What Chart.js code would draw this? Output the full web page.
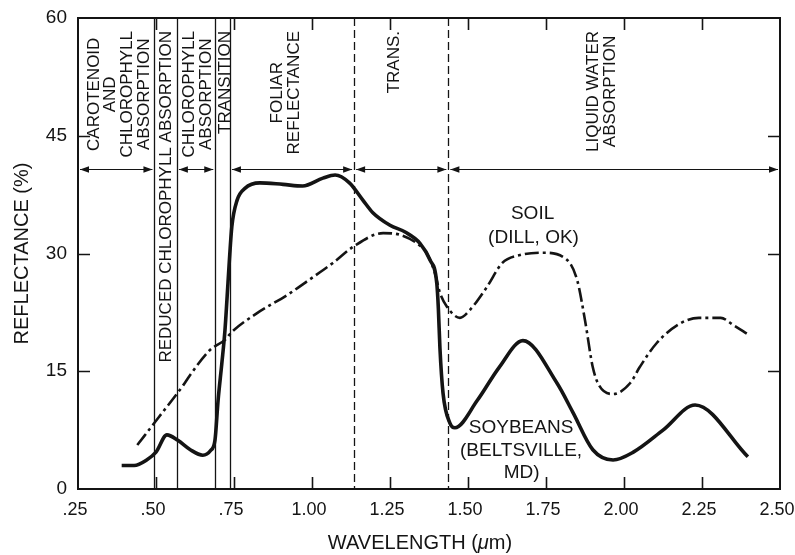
<!DOCTYPE html>
<html>
<head>
<meta charset="utf-8">
<script src="https://cdn.jsdelivr.net/npm/chart.js@4.4.0/dist/chart.umd.min.js"></script>
<style>
  html, body { margin: 0; padding: 0; background: #fff; }
  #wrap { width: 795px; height: 555px; }
</style>
</head>
<body>
<div id="wrap"><canvas id="spectra"></canvas></div>
<script>
// values (wavelength in um, reflectance in %)
var soybeanWl = [0.39, 0.43, 0.47, 0.50, 0.535, 0.57, 0.61, 0.65, 0.675, 0.689, 0.699, 0.711, 0.721, 0.728, 0.735, 0.743, 0.76, 0.785, 0.833, 0.907, 0.97, 1.035, 1.074, 1.12, 1.163, 1.195, 1.25, 1.30, 1.346, 1.378, 1.40, 1.405, 1.41, 1.42, 1.442, 1.458, 1.53, 1.60, 1.676, 1.785, 1.837, 1.90, 1.965, 2.03, 2.125, 2.228, 2.397];
var soybeanRefl = [3.0, 3.0, 3.7, 4.7, 6.9, 6.2, 5.0, 4.3, 4.9, 6.2, 11.3, 16.0, 20.2, 24.5, 29.0, 33.4, 36.8, 38.3, 39.0, 38.8, 38.6, 39.6, 40.0, 39.0, 36.8, 35.2, 33.6, 32.7, 31.3, 29.2, 26.2, 23.0, 18.0, 12.2, 8.4, 7.8, 11.3, 15.5, 18.9, 13.5, 9.7, 5.0, 3.7, 4.7, 7.5, 10.7, 4.1];

var soilWl = [0.44, 0.51, 0.587, 0.609, 0.673, 0.721, 0.743, 0.824, 0.92, 1.00, 1.067, 1.13, 1.228, 1.28, 1.336, 1.368, 1.394, 1.41, 1.433, 1.474, 1.506, 1.56, 1.61, 1.667, 1.74, 1.817, 1.85, 1.875, 1.90, 1.92, 1.965, 2.02, 2.05, 2.105, 2.18, 2.24, 2.31, 2.35, 2.397];
var soilRefl = [5.6, 9.2, 13.2, 14.5, 17.7, 19.0, 20.0, 22.4, 24.7, 26.9, 28.8, 30.8, 32.6, 32.4, 31.3, 30.0, 27.5, 25.0, 23.2, 21.8, 22.8, 25.7, 28.8, 29.8, 30.1, 29.2, 26.6, 21.5, 15.5, 13.2, 12.1, 13.5, 15.5, 18.6, 21.1, 21.8, 21.8, 20.9, 19.7];

var xTicks = [0.25, 0.50, 0.75, 1.00, 1.25, 1.50, 1.75, 2.00, 2.25, 2.50];
var yTicks = [0, 15, 30, 45, 60];

// spectral region boundaries and names
var boundaries = [0.495, 0.567, 0.69, 0.737, 1.135, 1.437];
var boundaryDashed = [false, false, false, false, true, true];
var arrowLevel = 40.8;
var arrowSpans = [[0.25, 0.495], [0.567, 0.69], [0.737, 1.135], [1.135, 1.437], [1.437, 2.5]];
var regionNames = [
  ['CAROTENOID', 'AND', 'CHLOROPHYLL', 'ABSORPTION'],
  ['REDUCED CHLOROPHYLL ABSORPTION'],
  ['CHLOROPHYLL', 'ABSORPTION'],
  ['TRANSITION'],
  ['FOLIAR', 'REFLECTANCE'],
  ['TRANS.'],
  ['LIQUID WATER', 'ABSORPTION']
];
var regionCenters = [0.378, 0.530, 0.630, 0.718, 0.913, 1.26, 1.926];

var ink = '#141414';
var FONT = "'Liberation Sans', Arial, sans-serif";

function pts(xs, ys) {
  return xs.map(function (x, i) { return { x: x, y: ys[i] }; });
}

var paper = {
  id: 'paper',
  beforeDatasetsDraw: function (chart) {
    var ctx = chart.ctx, xs = chart.scales.x, ys = chart.scales.y, a = chart.chartArea;
    ctx.save();
    ctx.strokeStyle = ink;
    ctx.fillStyle = ink;

    // region boundaries
    ctx.lineWidth = 1.3;
    boundaries.forEach(function (b, i) {
      var px = Math.round(xs.getPixelForValue(b)) + 0.5;
      ctx.setLineDash(boundaryDashed[i] ? [8, 4] : []);
      ctx.beginPath();
      ctx.moveTo(px, a.top);
      ctx.lineTo(px, a.bottom);
      ctx.stroke();
    });
    ctx.setLineDash([]);

    // double headed arrows
    var ay = Math.round(ys.getPixelForValue(arrowLevel)) + 0.5;
    function head(x, dir) {
      ctx.beginPath();
      ctx.moveTo(x, ay);
      ctx.lineTo(x + dir * 9, ay - 3.2);
      ctx.lineTo(x + dir * 9, ay + 3.2);
      ctx.closePath();
      ctx.fill();
    }
    ctx.lineWidth = 1.2;
    arrowSpans.forEach(function (s) {
      var x1 = xs.getPixelForValue(s[0]) + 2, x2 = xs.getPixelForValue(s[1]) - 2;
      ctx.beginPath();
      ctx.moveTo(x1, ay);
      ctx.lineTo(x2, ay);
      ctx.stroke();
      head(x1, 1);
      head(x2, -1);
    });

    // rotated region names, top of each block at the same height
    ctx.font = '17px ' + FONT;
    ctx.textAlign = 'center';
    ctx.textBaseline = 'middle';
    var lh = 16.6;
    regionNames.forEach(function (lines, k) {
      var w = 0;
      lines.forEach(function (t) { w = Math.max(w, ctx.measureText(t).width); });
      var cx = xs.getPixelForValue(regionCenters[k]);
      var cy = a.top + 13 + w / 2;
      ctx.save();
      ctx.translate(cx, cy);
      ctx.rotate(-Math.PI / 2);
      lines.forEach(function (t, i) {
        ctx.fillText(t, 0, (i - (lines.length - 1) / 2) * lh + 1);
      });
      ctx.restore();
    });

    // curve labels
    ctx.font = '19px ' + FONT;
    function note(t, x, y) { ctx.fillText(t, xs.getPixelForValue(x), ys.getPixelForValue(y)); }
    note('SOIL', 1.707, 35.1);
    note('(DILL, OK)', 1.71, 32.0);
    note('SOYBEANS', 1.67, 7.8);
    note('(BELTSVILLE,', 1.67, 4.85);
    note('MD)', 1.672, 2.05);
    ctx.restore();
  },
  afterDatasetsDraw: function (chart) {
    var ctx = chart.ctx, xs = chart.scales.x, ys = chart.scales.y, a = chart.chartArea;
    ctx.save();
    ctx.strokeStyle = ink;
    ctx.lineWidth = 2;
    ctx.strokeRect(a.left, a.top, a.right - a.left, a.bottom - a.top);

    // inward ticks on all four sides
    ctx.lineWidth = 1.6;
    var tl = 12;
    xTicks.slice(1, -1).forEach(function (v) {
      var px = Math.round(xs.getPixelForValue(v)) + 0.5;
      ctx.beginPath();
      ctx.moveTo(px, a.bottom); ctx.lineTo(px, a.bottom - tl);
      ctx.moveTo(px, a.top); ctx.lineTo(px, a.top + tl);
      ctx.stroke();
    });
    yTicks.slice(1, -1).forEach(function (v) {
      var py = Math.round(ys.getPixelForValue(v)) + 0.5;
      ctx.beginPath();
      ctx.moveTo(a.left, py); ctx.lineTo(a.left + tl, py);
      ctx.moveTo(a.right, py); ctx.lineTo(a.right - tl, py);
      ctx.stroke();
    });

    // x axis title with italic mu
    ctx.fillStyle = ink;
    ctx.textBaseline = 'middle';
    ctx.textAlign = 'left';
    var parts = [['WAVELENGTH (', '20px ' + FONT], ['\u03bc', 'italic 20px ' + FONT], ['m)', '20px ' + FONT]];
    var total = 0;
    parts.forEach(function (p) { ctx.font = p[1]; total += ctx.measureText(p[0]).width; });
    var tx = (a.left + a.right) / 2 - 9 - total / 2;
    parts.forEach(function (p) {
      ctx.font = p[1];
      ctx.fillText(p[0], tx, 543);
      tx += ctx.measureText(p[0]).width;
    });
    ctx.restore();
  }
};

var chart = new Chart(document.getElementById('spectra'), {
  type: 'line',
  data: {
    datasets: [{
      label: 'Soybeans (Beltsville, MD)',
      data: pts(soybeanWl, soybeanRefl),
      borderColor: ink,
      borderWidth: 3.6,
      pointRadius: 0,
      fill: false,
      cubicInterpolationMode: 'monotone'
    }, {
      label: 'Soil (Dill, OK)',
      data: pts(soilWl, soilRefl),
      borderColor: ink,
      borderWidth: 2.6,
      borderDash: [14, 4, 3, 4],
      pointRadius: 0,
      fill: false,
      cubicInterpolationMode: 'monotone'
    }]
  },
  options: {
    responsive: true,
    maintainAspectRatio: false,
    animation: false,
    layout: { padding: { top: 18, right: 15, left: 0, bottom: 0 } },
    plugins: { legend: { display: false }, tooltip: { enabled: false } },
    scales: {
      x: {
        type: 'linear',
        min: 0.25,
        max: 2.5,
        afterFit: function (s) { s.height = 66; s.paddingLeft = 0; s.paddingRight = 0; },
        afterBuildTicks: function (s) { s.ticks = xTicks.map(function (v) { return { value: v }; }); },
        grid: { display: false, drawTicks: false },
        border: { display: false },
        ticks: {
          autoSkip: false,
          maxRotation: 0,
          padding: 10,
          labelOffset: -3,
          color: ink,
          font: { family: FONT, size: 18 },
          callback: function (v) { return v < 1 ? '.' + Math.round(v * 100) : v.toFixed(2); }
        }
      },
      y: {
        min: 0,
        max: 60,
        afterFit: function (s) { s.width = 78; s.paddingTop = 0; s.paddingBottom = 0; },
        afterBuildTicks: function (s) { s.ticks = yTicks.map(function (v) { return { value: v }; }); },
        grid: { display: false, drawTicks: false },
        border: { display: false },
        ticks: {
          padding: 11,
          color: ink,
          font: { family: FONT, size: 19 }
        },
        title: {
          display: true,
          text: 'REFLECTANCE (%)',
          color: ink,
          font: { family: FONT, size: 20 },
          padding: { top: 10, bottom: 0 }
        }
      }
    }
  },
  plugins: [paper]
});
</script>
</body>
</html>
